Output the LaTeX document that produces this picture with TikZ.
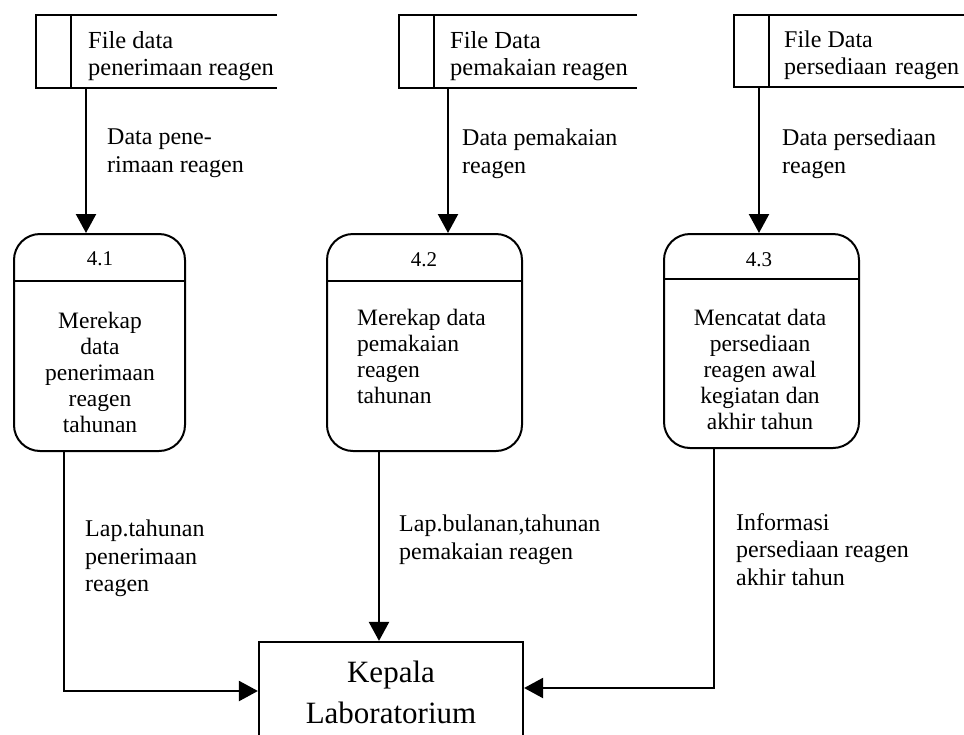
\documentclass[tikz,border=0pt]{standalone}
\usepackage{fontspec}
\setmainfont{Liberation Serif}
\usetikzlibrary{arrows.meta}
\begin{document}
\begin{tikzpicture}[x=1pt,y=-1pt,
  lbl/.style={inner sep=0pt, anchor=north west, align=left, font=\fontsize{24}{27.5}\selectfont},
  storetext/.style={inner sep=0pt, anchor=north west, align=left, font=\fontsize{24.5}{27}\selectfont},
  proc/.style={draw, line width=2pt, rounded corners=26pt, inner sep=0pt, minimum height=217pt},
  proctext/.style={inner sep=0pt, font=\fontsize{23.5}{26}\selectfont},
  procnum/.style={inner sep=0pt, font=\fontsize{21}{24}\selectfont},
  flow/.style={line width=2.3pt, -{Triangle[width=20pt,length=19pt]}},
  storeline/.style={line width=2.4pt},
  entity/.style={draw, line width=2.2pt, inner sep=0pt, minimum width=264pt, minimum height=130pt}]
\useasboundingbox (0,0) rectangle (964,734);

% data stores
\draw[storeline] (277,15) -- (36,15) -- (36,88) -- (277,88);
\draw[storeline] (71,15) -- (71,88);
\node[storetext] (s1) at (88,31) {File data\\penerimaan reagen};
\draw[storeline] (637,15) -- (399,15) -- (399,88) -- (637,88);
\draw[storeline] (434,15) -- (434,88);
\node[storetext] (s2) at (450,31) {File Data\\pemakaian reagen};
\draw[storeline] (966,15) -- (734,15) -- (734,87) -- (966,87);
\draw[storeline] (769,15) -- (769,87);
\node[storetext, font=\fontsize{24}{27}\selectfont] (s3) at (784,31) {File Data\\persediaan\hspace{0.35em}reagen};
\coordinate (s1b) at (86,88);
\coordinate (s2b) at (448,88);
\coordinate (s3b) at (759,87);

% processes
\node[proc, minimum width=171pt] (p1) at (99.5,342.5) {};
\node[proc, minimum width=195pt] (p2) at (424.5,342.5) {};
\node[proc, minimum width=195pt, minimum height=214pt] (p3) at (761.5,341) {};
\draw[line width=2pt] (p1.west |- 0,281) -- (p1.east |- 0,281);
\draw[line width=2pt] (p2.west |- 0,281) -- (p2.east |- 0,281);
\draw[line width=2pt] (p3.west |- 0,279) -- (p3.east |- 0,279);
\node[procnum] (n1) at (100,259) {4.1};
\node[procnum] (n2) at (424,260) {4.2};
\node[procnum] (n3) at (759,260) {4.3};
\node[proctext, align=center] (t1) at (100,372) {Merekap\\data\\penerimaan\\reagen\\tahunan};
\node[proctext, align=left, anchor=west] (t2) at (357,356) {Merekap data\\pemakaian\\reagen\\tahunan};
\node[proctext, align=center] (t3) at (760,369) {Mencatat data\\persediaan\\reagen awal\\kegiatan dan\\akhir tahun};

% external entity
\node[entity] (k) at (391,707) {};
\node[inner sep=0pt, align=center, font=\fontsize{31}{41}\selectfont] (kt) at (391,692) {Kepala\\Laboratorium};

% flows
\draw[flow] (s1b) -- (s1b |- p1.north);
\draw[flow] (s2b) -- (s2b |- p2.north);
\draw[flow] (s3b) -- (s3b |- p3.north);
\draw[flow] (p1.south -| 64,0) |- (k.west |- 0,691);
\draw[flow] (p2.south -| 379,0) -- (k.north -| 379,0);
\draw[flow] (p3.south -| 714,0) |- (k.east |- 0,688);

% flow labels
\node[lbl] (l1) at (107,129) {Data pene-\\rimaan reagen};
\node[lbl] (l2) at (462,129) {Data pemakaian\\reagen};
\node[lbl] (l3) at (782,129) {Data persediaan\\reagen};
\node[lbl] (l4) at (85,520) {Lap.tahunan\\penerimaan\\reagen};
\node[lbl] (l5) at (399,515) {Lap.bulanan,tahunan\\pemakaian reagen};
\node[lbl] (l6) at (736,513) {Informasi\\persediaan reagen\\akhir tahun};
\end{tikzpicture}
\end{document}
